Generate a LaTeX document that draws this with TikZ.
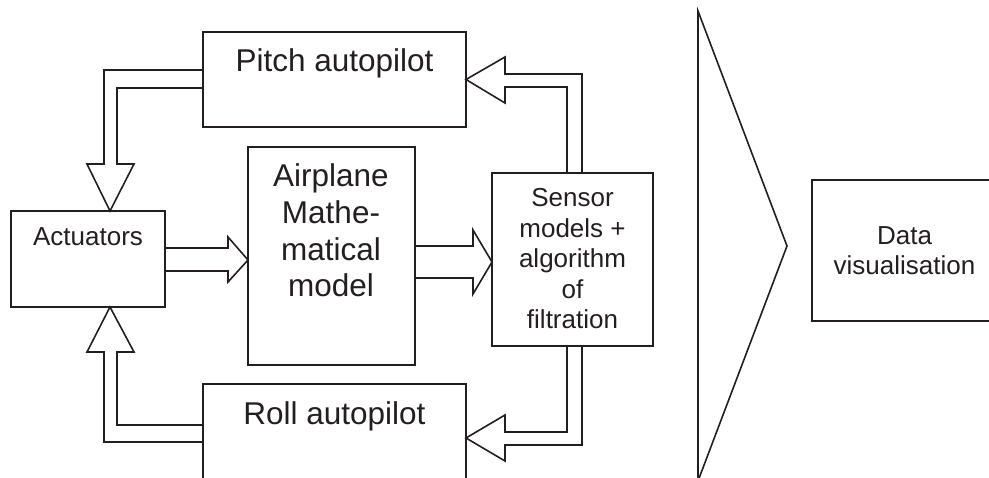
\documentclass[tikz,border=0pt]{standalone}
\usepackage{fontspec}
\setmainfont{Liberation Sans}
\definecolor{inkc}{RGB}{35,31,32}
\begin{document}
\begin{tikzpicture}[x=1pt,y=-1pt,
  ink/.style={draw=inkc, line width=1.6pt},
  box/.style={ink, rectangle, inner sep=0pt, outer sep=0pt},
  big/.style={font=\fontsize{31.5}{36.7}\selectfont, text=inkc, inner sep=0pt, align=center},
  small/.style={font=\fontsize{26}{30.5}\selectfont, text=inkc, inner sep=0pt, align=center},
  flow/.style={ink, line join=miter}]
\useasboundingbox (0,0) rectangle (989,478);
\clip (0,0) rectangle (989,478);

% blocks
\node[box, minimum width=263pt, minimum height=95pt]  (pitch) at (334.5,79.5) {};
\node[box, minimum width=154pt, minimum height=96pt]  (act)   at (88,259)     {};
\node[box, minimum width=167pt, minimum height=218pt] (air)   at (331.5,256)  {};
\node[box, minimum width=161pt, minimum height=173pt] (sens)  at (572.5,259.5) {};
\node[box, minimum width=263pt, minimum height=116pt] (roll)  at (334.5,442)  {};
\node[box, minimum width=183pt, minimum height=141pt] (data)  at (903.5,250.5) {};

% labels (base anchor sits on the last line)
\node[big, anchor=base]   (pitchlbl) at (334.5,72)  {Pitch autopilot};
\node[big, anchor=base]   (rolllbl)  at (334.5,425) {Roll autopilot};
\node[big, anchor=base]   (airlbl)   at (331,297)   {Airplane\\Mathe-\\matical\\model};
\node[small, anchor=base] (actlbl)   at (88,246)    {Actuators};
\node[small, anchor=base] (senslbl)  at (572.5,329) {Sensor\\models +\\algorithm\\of\\filtration};
\node[small, anchor=base] (datalbl)  at (904.5,275) {Data\\visualisation};

% hollow block arrows
% pitch autopilot -> actuators
\draw[flow] (pitch.west |- 0,70) -- (104,70) -- (104,164) -- (87,164)
  -- (110,0 |- act.north) -- (134,164) -- (117,164) -- (117,88) -- (pitch.west |- 0,88);
% actuators -> airplane model
\draw[flow] (act.east |- 0,248) -- (228,248) -- (228,237) -- (air.west |- 0,260)
  -- (228,282) -- (228,271) -- (act.east |- 0,271);
% airplane model -> sensors
\draw[flow] (air.east |- 0,246) -- (473,246) -- (473,230) -- (sens.west |- 0,262)
  -- (473,294) -- (473,278) -- (air.east |- 0,278);
% sensors -> pitch autopilot
\draw[flow] (567,0 |- sens.north) -- (567,87) -- (505,87) -- (505,103)
  -- (pitch.east) -- (505,57) -- (505,74) -- (582,74) -- (582,0 |- sens.north);
% sensors -> roll autopilot
\draw[flow] (567,0 |- sens.south) -- (567,432) -- (505,432) -- (505,415)
  -- (roll.east |- 0,438) -- (505,461) -- (505,445) -- (582,445) -- (582,0 |- sens.south);
% roll autopilot -> actuators
\draw[flow] (roll.west |- 0,425) -- (117,425) -- (117,352) -- (134,352)
  -- (110,0 |- act.south) -- (87,352) -- (104,352) -- (104,442) -- (roll.west |- 0,442);

% large output arrow towards the display
\coordinate (tritop) at (698,11);
\coordinate (tritip) at (787,246);
\coordinate (tribot) at (698,481);
\draw[flow] (tritop) -- (tritip) -- (tribot) -- cycle;
\end{tikzpicture}
\end{document}
